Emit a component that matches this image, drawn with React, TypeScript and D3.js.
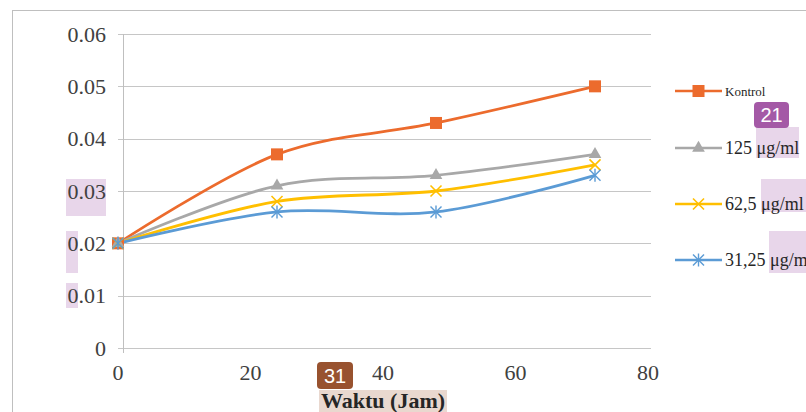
import React from "react";
import * as d3 from "d3";

const hours = [0, 24, 48, 72];
const kontrol = [0.02, 0.037, 0.043, 0.05];
const c125 = [0.02, 0.031, 0.033, 0.037];
const c625 = [0.02, 0.028, 0.03, 0.035];
const c3125 = [0.02, 0.026, 0.026, 0.033];
const seriesNames = ["Kontrol", "125 μg/ml", "62,5 μg/ml", "31,25 μg/ml"];
const yTicks = [0, 0.01, 0.02, 0.03, 0.04, 0.05, 0.06];
const xTicks = [0, 20, 40, 60, 80];
const xTitle = "Waktu (Jam)";

const W = 806;
const H = 412;
const SERIF = "'Liberation Serif', 'Times New Roman', 'DejaVu Serif', serif";
const SANS = "'Liberation Sans', Arial, sans-serif";

export default function App() {
  const x = d3.scaleLinear().domain([0, 80]).range([118, 648]);
  const y = d3.scaleLinear().domain([0, 0.06]).range([348, 34]);
  const line = d3
    .line<number>()
    .x((_, i) => x(hours[i]))
    .y((d) => y(d))
    .curve(d3.curveCardinal.tension(0));

  const series = [
    { name: seriesNames[0], values: kontrol, color: "#EC6B2D", marker: "square" },
    { name: seriesNames[1], values: c125, color: "#A8A8A8", marker: "triangle" },
    { name: seriesNames[2], values: c625, color: "#FFBF00", marker: "x" },
    { name: seriesNames[3], values: c3125, color: "#5B9BD5", marker: "star" },
  ];

  const marker = (type: string, cx: number, cy: number, color: string, key: string) => {
    if (type === "square")
      return <rect key={key} x={cx - 6} y={cy - 6} width={12} height={12} fill={color} />;
    if (type === "triangle") {
      const p = d3.symbol().type(d3.symbolTriangle).size(70)();
      return <path key={key} d={p || ""} transform={`translate(${cx},${cy})`} fill={color} />;
    }
    const r = 5.5;
    if (type === "x")
      return (
        <g key={key} stroke={color} strokeWidth={1.6}>
          <line x1={cx - r} y1={cy - r} x2={cx + r} y2={cy + r} />
          <line x1={cx - r} y1={cy + r} x2={cx + r} y2={cy - r} />
        </g>
      );
    return (
      <g key={key} stroke={color} strokeWidth={1.4}>
        <line x1={cx - r} y1={cy - r} x2={cx + r} y2={cy + r} />
        <line x1={cx - r} y1={cy + r} x2={cx + r} y2={cy - r} />
        <line x1={cx} y1={cy - r - 1} x2={cx} y2={cy + r + 1} />
      </g>
    );
  };

  const legendY = [91, 148, 204, 260];

  return (
    <svg
      width={W}
      height={H}
      style={{ position: "absolute", left: 0, top: 0, background: "#fff", fontFamily: SERIF }}
    >
      <rect x={12.5} y={10.5} width={900} height={500} fill="#fff" stroke="#bfbfbf" strokeWidth={1} />

      {/* highlight boxes */}
      <rect x={66} y={179} width={40} height={37} fill="#e8d6ea" />
      <rect x={66} y={231} width={12} height={42} fill="#e8d6ea" />
      <rect x={66} y={283} width={12} height={25} fill="#e8d6ea" />
      <rect x={756} y={127} width={43} height={31} fill="#e8d6ea" />
      <rect x={761} y={179} width={45} height={33} fill="#e8d6ea" />
      <rect x={769} y={231} width={37} height={42} fill="#e8d6ea" />
      <rect x={319} y={390} width={128} height={22} fill="#e9d8cf" />

      {/* gridlines */}
      {yTicks.map((t) => (
        <g key={t}>
          <line x1={118} x2={651} y1={Math.round(y(t)) + 0.5} y2={Math.round(y(t)) + 0.5} stroke="#c6c6c6" strokeWidth={1} />
          <text x={106} y={y(t)} dy="0.35em" textAnchor="end" fontSize={22} fill="#404040" style={{ fontFamily: SERIF }}>
            {t === 0 ? "0" : t.toFixed(2)}
          </text>
        </g>
      ))}
      <line x1={123.5} x2={123.5} y1={34} y2={353} stroke="#bfbfbf" strokeWidth={1} />
      {xTicks.map((t) => (
        <text key={t} x={x(t)} y={380} textAnchor="middle" fontSize={22} fill="#404040" style={{ fontFamily: SERIF }}>
          {t}
        </text>
      ))}

      {/* series */}
      {series.map((s) => (
        <path key={s.name} d={line(s.values) || ""} fill="none" stroke={s.color} strokeWidth={2.8} />
      ))}
      {series.map((s) =>
        s.values.map((v, i) => marker(s.marker, x(hours[i]), y(v), s.color, s.name + i))
      )}

      {/* legend */}
      {series.map((s, i) => (
        <g key={"lg" + i}>
          <line x1={675} x2={722} y1={legendY[i]} y2={legendY[i]} stroke={s.color} strokeWidth={2.6} />
          {marker(s.marker, 698.5, legendY[i], s.color, "lm" + i)}
          <text x={725} y={legendY[i]} dy="0.35em" fontSize={i === 0 ? 13 : 18} fill="#262626" style={{ fontFamily: SERIF }}>
            {s.name}
          </text>
        </g>
      ))}

      {/* axis title */}
      <text x={383} y={408} textAnchor="middle" fontSize={22} fontWeight="bold" fill="#262626" style={{ fontFamily: SERIF }}>
        {xTitle}
      </text>

      {/* annotation badges */}
      <rect x={754} y={102} width={35} height={26} rx={4} fill="#a459a6" />
      <text x={771.5} y={115} dy="0.35em" textAnchor="middle" fontSize={20} fill="#fff" style={{ fontFamily: SANS }}>
        21
      </text>
      <rect x={317} y={362} width={36} height={27} rx={4} fill="#98522f" />
      <text x={335} y={375.5} dy="0.35em" textAnchor="middle" fontSize={20} fill="#fff" style={{ fontFamily: SANS }}>
        31
      </text>
    </svg>
  );
}
